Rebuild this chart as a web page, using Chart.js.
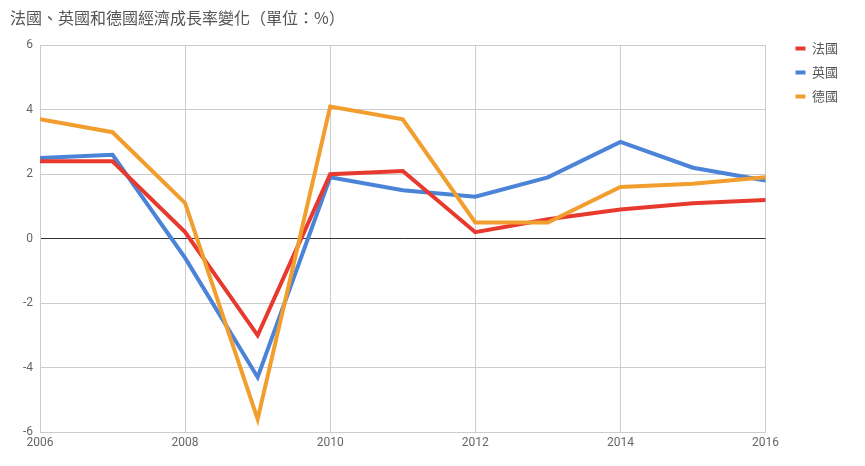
<!DOCTYPE html>
<html>
<head>
<meta charset="utf-8">
<script src="https://cdn.jsdelivr.net/npm/chart.js@4"></script>
<style>
  html, body { margin: 0; padding: 0; background: #fff; }
  #wrap { width: 865px; height: 466px; }
</style>
</head>
<body>
<div id="wrap"><canvas id="growth"></canvas></div>
<script>
const years = [2006, 2007, 2008, 2009, 2010, 2011, 2012, 2013, 2014, 2015, 2016]
const france = [2.4, 2.4, 0.2, -3.0, 2.0, 2.1, 0.2, 0.6, 0.9, 1.1, 1.2]
const uk = [2.5, 2.6, -0.6, -4.3, 1.9, 1.5, 1.3, 1.9, 3.0, 2.2, 1.8]
const germany = [3.7, 3.3, 1.1, -5.6, 4.1, 3.7, 0.5, 0.5, 1.6, 1.7, 1.9]
const yTicks = [-6, -4, -2, 0, 2, 4, 6]
const xTicks = [2006, 2008, 2010, 2012, 2014, 2016]

const points = vals => vals.map((v, i) => ({ x: years[i], y: v }))

function series(label, vals, color, order) {
    return {
        label: label,
        data: points(vals),
        borderColor: color,
        backgroundColor: color,
        borderWidth: 4,
        borderCapStyle: 'round',
        borderJoinStyle: 'miter',
        pointRadius: 0,
        pointHoverRadius: 0,
        tension: 0,
        order: order,
    }
}

const latin = 'Roboto, "Noto Sans CJK TC", sans-serif'

const ctx = document.getElementById('growth').getContext('2d')
new Chart(ctx, {
    type: 'line',
    data: {
        datasets: [
            series('法國', france, '#e8392f', 1),
            series('英國', uk, '#4a83d7', 2),
            series('德國', germany, '#f29e2e', 0),
        ]
    },
    options: {
        responsive: true,
        maintainAspectRatio: false,
        animation: false,
        layout: { padding: { left: 10, right: 17, top: 8, bottom: 8 } },
        plugins: {
            title: {
                display: true,
                text: '法國、英國和德國經濟成長率變化（單位：%）',
                align: 'start',
                color: '#555',
                font: { family: '"Noto Sans CJK TC", sans-serif', size: 16, weight: 'normal' },
                padding: { top: 0, bottom: 18 },
            },
            legend: {
                position: 'right',
                align: 'start',
                title: {
                    display: true,
                    text: ' ',
                    font: { size: 10 },
                    padding: { top: 11, bottom: 0 },
                },
                labels: {
                    usePointStyle: true,
                    pointStyle: 'line',
                    pointStyleWidth: 10,
                    color: '#555',
                    padding: 11,
                    font: { family: '"Noto Sans CJK TC", sans-serif', size: 13 },
                    sort: (a, b) => a.datasetIndex - b.datasetIndex,
                },
            },
            tooltip: { enabled: false },
        },
        scales: {
            x: {
                type: 'linear',
                min: years[0],
                max: years[years.length - 1],
                afterBuildTicks: s => { s.ticks = xTicks.map(v => ({ value: v })) },
                afterFit: s => { s.height = 26 },
                ticks: {
                    callback: v => String(v),
                    color: '#666',
                    padding: 4,
                    maxRotation: 0,
                    font: { family: latin, size: 12 },
                },
                grid: { color: '#ccc', drawTicks: false },
                border: { color: '#ccc' },
            },
            y: {
                min: -6,
                max: 6,
                afterBuildTicks: s => { s.ticks = yTicks.map(v => ({ value: v })) },
                afterFit: s => { s.width = 30 },
                ticks: {
                    color: '#666',
                    padding: 7,
                    font: { family: latin, size: 12 },
                },
                grid: {
                    color: c => c.tick && c.tick.value === 0 ? '#333' : '#ccc',
                    drawTicks: false,
                },
                border: { color: '#ccc' },
            },
            gap: {
                type: 'linear',
                position: 'right',
                display: true,
                afterFit: s => { s.width = 19 },
                ticks: { display: false },
                grid: { display: false, drawTicks: false },
                border: { display: false },
            },
        },
    },
})
</script>
</body>
</html>
